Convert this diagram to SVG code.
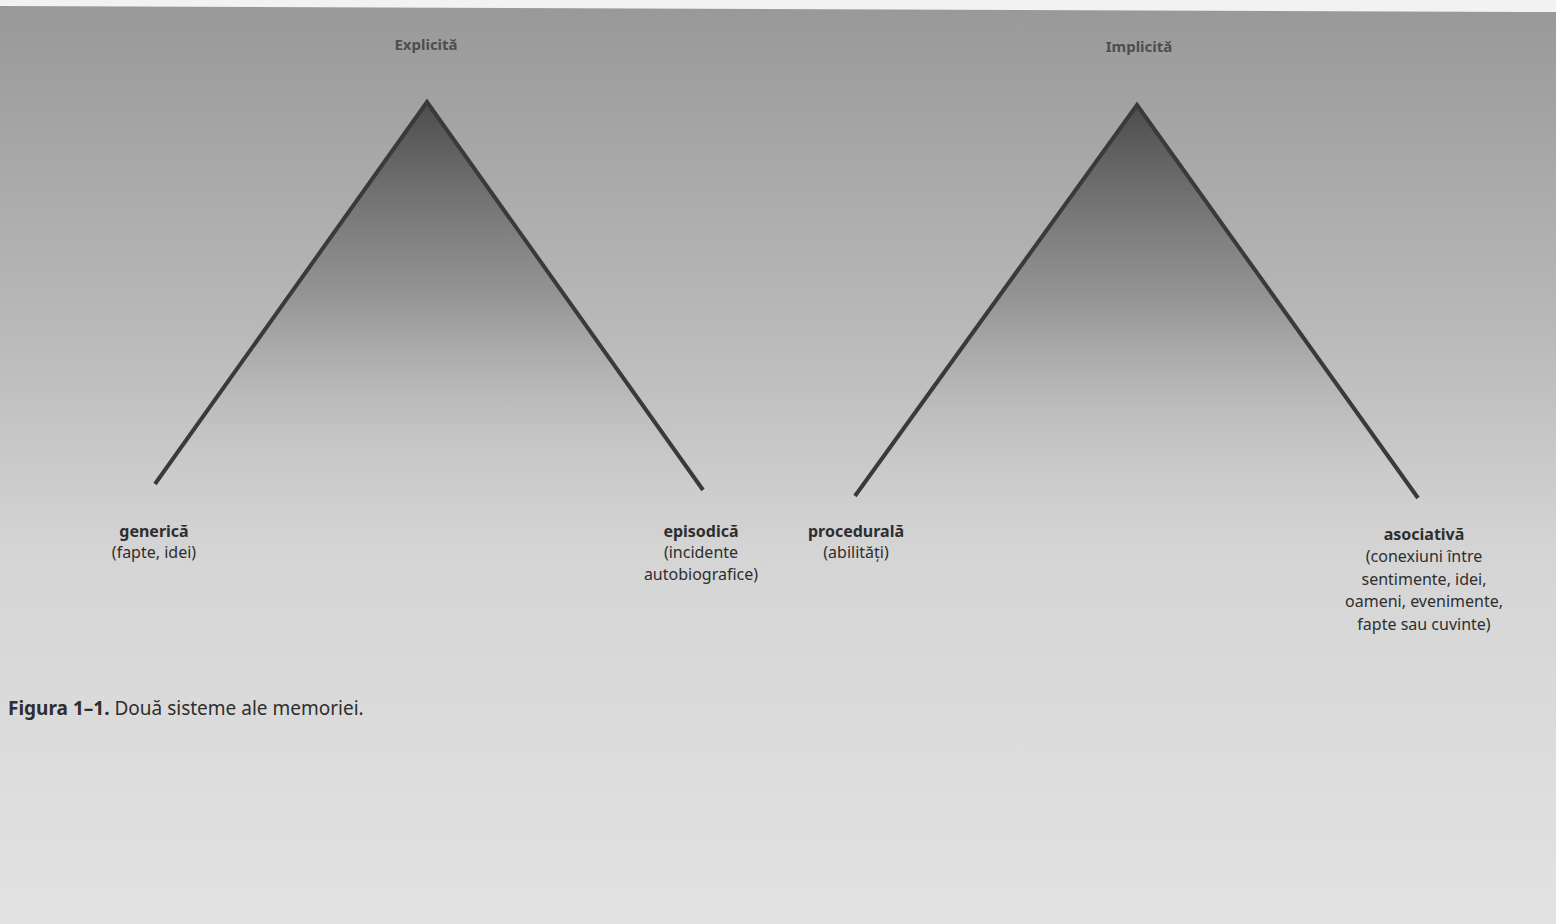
<svg xmlns="http://www.w3.org/2000/svg" width="1556" height="924" viewBox="0 0 1556 924">
<defs>
<linearGradient id="bg" x1="0" y1="0" x2="0" y2="1">
<stop offset="0" stop-color="#989898"/>
<stop offset="0.35" stop-color="#b8b8b8"/>
<stop offset="0.6" stop-color="#d5d5d5"/>
<stop offset="1" stop-color="#e2e2e2"/>
</linearGradient>
<linearGradient id="tri" x1="0" y1="0" x2="0" y2="1">
<stop offset="0" stop-color="#4c4c4c" stop-opacity="1"/>
<stop offset="0.5" stop-color="#7a7a7a" stop-opacity="0.55"/>
<stop offset="1" stop-color="#cfcfcf" stop-opacity="0"/>
</linearGradient>
<style>
.edge{fill:none;stroke:#3a3a3a;stroke-width:4;stroke-linecap:butt;stroke-linejoin:miter}
.t{font-family:"Noto Sans","Open Sans",sans-serif;fill:#2e2e2e;font-size:16px;text-anchor:middle}
.b{font-weight:bold}
.title{font-family:"Noto Sans","Open Sans",sans-serif;fill:#4e4e4e;font-size:15px;font-weight:bold;text-anchor:middle}
.cap{font-family:"Noto Sans","Open Sans",sans-serif;fill:#2e2e2e;font-size:19px}
</style>
</defs>
<rect x="0" y="0" width="1556" height="924" fill="url(#bg)"/>
<polygon points="0,0 1556,0 1556,12 0,6" fill="#f2f2f2"/>
<g id="explicit">
<text class="title" x="426" y="50">Explicită</text>
<polygon points="427,102 155,484 703,490" fill="url(#tri)"/>
<polyline class="edge" points="155,484 427,102 703,490"/>
</g>
<g id="implicit">
<text class="title" x="1139" y="52">Implicită</text>
<polygon points="1137,105 855,496 1418,498" fill="url(#tri)"/>
<polyline class="edge" points="855,496 1137,105 1418,498"/>
</g>
<g id="generica">
<text class="t" x="154" y="537"><tspan class="b">generică</tspan><tspan x="154" dy="21">(fapte, idei)</tspan></text>
</g>
<g id="episodica">
<text class="t" x="701" y="537"><tspan class="b">episodică</tspan><tspan x="701" dy="21">(incidente</tspan><tspan x="701" dy="22">autobiografice)</tspan></text>
</g>
<g id="procedurala">
<text class="t" x="856" y="537"><tspan class="b">procedurală</tspan><tspan x="856" dy="21">(abilități)</tspan></text>
</g>
<g id="asociativa">
<text class="t" x="1424" y="540"><tspan class="b">asociativă</tspan><tspan x="1424" dy="22">(conexiuni între</tspan><tspan x="1424" dy="22.5">sentimente, idei,</tspan><tspan x="1424" dy="22.5">oameni, evenimente,</tspan><tspan x="1424" dy="22.5">fapte sau cuvinte)</tspan></text>
</g>
<g id="connectors"></g>
<g id="caption">
<text class="cap" x="8" y="715"><tspan font-weight="bold">Figura 1–1.</tspan> Două sisteme ale memoriei.</text>
</g>
</svg>
